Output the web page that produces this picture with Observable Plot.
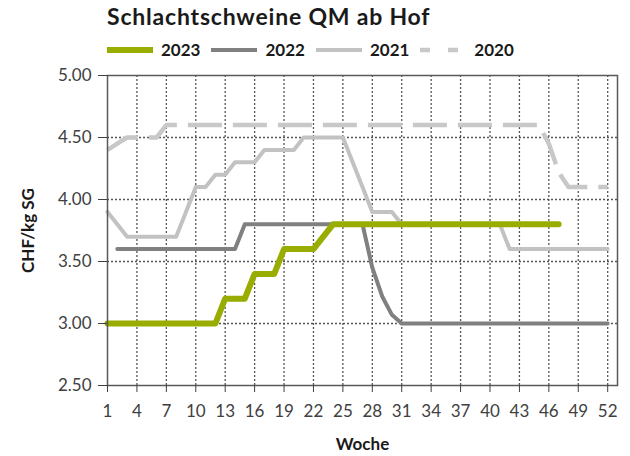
<!DOCTYPE html>
<html>
<head>
<meta charset="utf-8">
<script src="https://cdn.jsdelivr.net/npm/d3@7"></script>
<script src="https://cdn.jsdelivr.net/npm/@observablehq/plot@0.6"></script>
<style>
  body { margin: 0; background: #fff; font-family: Lato, "Open Sans", sans-serif; }
  #wrap { position: relative; width: 630px; height: 456px; overflow: hidden; }
  #head { position: relative; width: 630px; height: 62px; }
  #title { position: absolute; left: 107px; top: 5px; font-size: 23px; line-height: 22px; letter-spacing: 0.8px; font-weight: bold; color: #1a1a1a; white-space: nowrap; }
  #legend { position: absolute; left: 107px; top: 41px; height: 18px; display: flex; align-items: center; }
  .item { display: flex; align-items: center; margin-right: 11px; }
  .item span { margin-left: 8px; font-size: 17px; font-weight: bold; color: #1a1a1a; line-height: 18px; }
  #chart svg { display: block; }
  g[aria-label="y-axis label"] text, g[aria-label="x-axis label"] text { font-weight: bold; fill: #1a1a1a; }
</style>
</head>
<body>
<div id="wrap">
  <div id="head">
    <div id="title">Schlachtschweine QM ab Hof</div>
    <div id="legend"></div>
  </div>
  <div id="chart"></div>
</div>
<script>
// ---- data ----
const titleText = "Schlachtschweine QM ab Hof";
const years = ["2023", "2022", "2021", "2020"];
const colors = ["#98ad00", "#808080", "#c2c2c2", "#c8c8c8"];
const xTicks = [1, 4, 7, 10, 13, 16, 19, 22, 25, 28, 31, 34, 37, 40, 43, 46, 49, 52];
const yTicks = [2.5, 3, 3.5, 4, 4.5, 5];

// weekly prices (CHF/kg SG), index 0 = week 1
const v2023 = [
  3.00, 3.00, 3.00, 3.00, 3.00, 3.00, 3.00, 3.00, 3.00, 3.00, 3.00, 3.00,
  3.20, 3.20, 3.20, 3.40, 3.40, 3.40, 3.60, 3.60, 3.60, 3.60, 3.70,
  3.80, 3.80, 3.80, 3.80, 3.80, 3.80, 3.80, 3.80, 3.80, 3.80, 3.80, 3.80,
  3.80, 3.80, 3.80, 3.80, 3.80, 3.80, 3.80, 3.80, 3.80, 3.80, 3.80, 3.80
];
const v2022 = [
  null, 3.60, 3.60, 3.60, 3.60, 3.60, 3.60, 3.60, 3.60, 3.60, 3.60, 3.60, 3.60, 3.60,
  3.80, 3.80, 3.80, 3.80, 3.80, 3.80, 3.80, 3.80, 3.80, 3.80, 3.80, 3.80, 3.80,
  3.45, 3.22, 3.07,
  3.00, 3.00, 3.00, 3.00, 3.00, 3.00, 3.00, 3.00, 3.00, 3.00, 3.00, 3.00,
  3.00, 3.00, 3.00, 3.00, 3.00, 3.00, 3.00, 3.00, 3.00, 3.00
];
const v2021 = [
  3.90, 3.80, 3.70, 3.70, 3.70, 3.70, 3.70, 3.70, 3.90, 4.10, 4.10, 4.20, 4.20,
  4.30, 4.30, 4.30, 4.40, 4.40, 4.40, 4.40, 4.50, 4.50, 4.50, 4.50, 4.50,
  4.30, 4.10, 3.90, 3.90, 3.90,
  3.80, 3.80, 3.80, 3.80, 3.80, 3.80, 3.80, 3.80, 3.80, 3.80, 3.80,
  3.60, 3.60, 3.60, 3.60, 3.60, 3.60, 3.60, 3.60, 3.60, 3.60, 3.60
];
const v2020 = [
  4.40, 4.45, 4.50, 4.50, 4.50, 4.50,
  4.60, 4.60, 4.60, 4.60, 4.60, 4.60, 4.60, 4.60, 4.60, 4.60, 4.60, 4.60, 4.60,
  4.60, 4.60, 4.60, 4.60, 4.60, 4.60, 4.60, 4.60, 4.60, 4.60, 4.60, 4.60, 4.60,
  4.60, 4.60, 4.60, 4.60, 4.60, 4.60, 4.60, 4.60, 4.60, 4.60, 4.60, 4.60, 4.60,
  4.45, 4.22, 4.10, 4.10, 4.10, 4.10, 4.10
];

// ---- build ----
const toRows = (vals, year) => vals.map((v, i) => ({week: i + 1, value: v, year})).filter(d => d.value != null);
const r2023 = toRows(v2023, years[0]);
const r2022 = toRows(v2022, years[1]);
const r2021 = toRows(v2021, years[2]);
const r2020 = toRows(v2020, years[3]);

const styles = [
  {w: 6, dash: null},
  {w: 4, dash: null},
  {w: 4, dash: null},
  {w: 4.5, dash: "10,18"}
];

// legend
const legend = document.getElementById("legend");
years.forEach((y, i) => {
  const item = document.createElement("div");
  item.className = "item";
  const s = styles[i];
  const dashAttr = s.dash ? ` stroke-dasharray="${s.dash}"` : "";
  item.innerHTML = `<svg width="46" height="10"><line x1="0" x2="46" y1="5" y2="5" stroke="${colors[i]}" stroke-width="${s.w}"${dashAttr}/></svg><span>${y}</span>`;
  legend.appendChild(item);
});

const gridStyle = {stroke: "#555", strokeOpacity: 1, strokeWidth: 1.3, strokeDasharray: "2,2"};

const chart = Plot.plot({
  width: 630,
  height: 394,
  marginTop: 13,
  marginBottom: 71,
  marginLeft: 107,
  marginRight: 13,
  style: {fontFamily: "Lato, 'Open Sans', sans-serif", fontSize: "17px", color: "#404040", background: "#fff"},
  x: {domain: [1, 53]},
  y: {domain: [2.5, 5]},
  marks: [
    Plot.gridX(xTicks.slice(1), {...gridStyle}),
    Plot.gridY(yTicks.slice(1, -1), {...gridStyle}),
    Plot.line(r2020, {x: "week", y: "value", stroke: colors[3], strokeWidth: styles[3].w, strokeDasharray: "34,11", strokeLinecap: "butt"}),
    Plot.line(r2021, {x: "week", y: "value", stroke: colors[2], strokeWidth: styles[2].w}),
    Plot.line(r2022, {x: "week", y: "value", stroke: colors[1], strokeWidth: styles[1].w}),
    Plot.line(r2023, {x: "week", y: "value", stroke: colors[0], strokeWidth: styles[0].w}),
    Plot.frame({stroke: "#595959", strokeWidth: 1.5}),
    Plot.axisY(yTicks, {tickFormat: d => d.toFixed(2), tickSize: 9, tickPadding: 7, fontSize: 17,
      label: "CHF/kg SG", labelAnchor: "center", labelOffset: 86, labelArrow: "none", stroke: "#404040"}),
    Plot.axisX(xTicks, {tickSize: 7, tickPadding: 12, fontSize: 17,
      label: "Woche", labelAnchor: "center", labelOffset: 64, labelArrow: "none", stroke: "#404040"})
  ]
});
document.getElementById("chart").appendChild(chart);
</script>
</body>
</html>
